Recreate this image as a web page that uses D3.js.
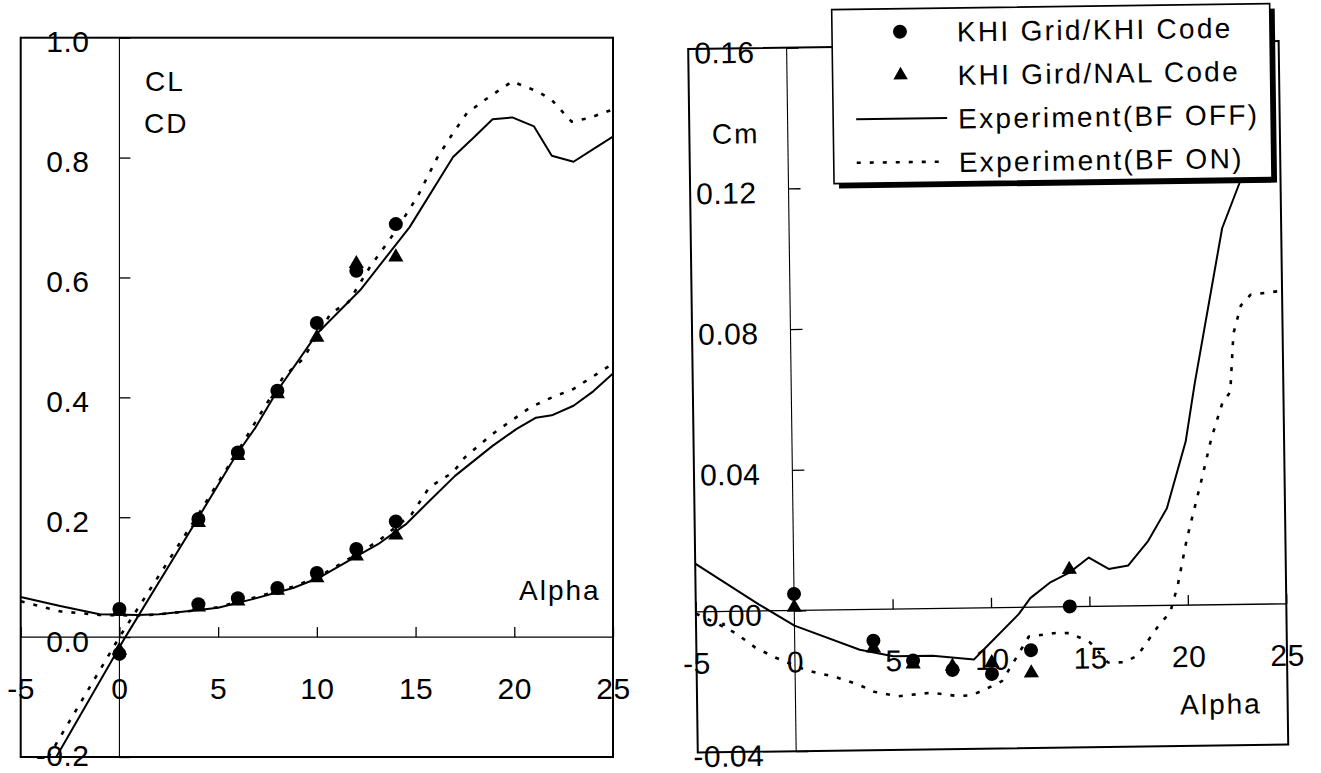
<!DOCTYPE html>
<html>
<head>
<meta charset="utf-8">
<script src="https://cdn.jsdelivr.net/npm/d3@7"></script>
<style>
  html, body { margin: 0; padding: 0; background: #fff; }
  svg { display: block; }
  text { font-family: "Liberation Sans", Arial, Helvetica, sans-serif; font-size: 28px; letter-spacing: 2px; fill: #000; }
  text.tick-label { font-size: 30px; letter-spacing: 0.5px; }
  text.legend-label { letter-spacing: 2.3px; }
</style>
</head>
<body>
<svg id="chart" width="1321" height="773"></svg>
<script>
// ---- axes ----
const alphaTicks = [-5, 0, 5, 10, 15, 20, 25];
const coefTicks = [-0.2, 0.0, 0.2, 0.4, 0.6, 0.8, 1.0];
const cmTicks = [-0.04, 0.00, 0.04, 0.08, 0.12, 0.16];

// ---- CFD results, KHI grid ----
const alphaCfd = [0, 4, 6, 8, 10, 12, 14];
const clKhiCode = [-0.028, 0.197, 0.308, 0.411, 0.524, 0.611, 0.689];
const clNalCode = [-0.022, 0.191, 0.303, 0.406, 0.500, 0.623, 0.634];
const cdKhiCode = [0.047, 0.055, 0.065, 0.082, 0.107, 0.147, 0.193];
const cdNalCode = [0.043, 0.050, 0.060, 0.078, 0.099, 0.135, 0.170];
const cmKhiCode = [0.0047, -0.0089, -0.0147, -0.0175, -0.0188, -0.0122, 0.0001];
const cmNalCode = [0.0009, -0.0110, -0.0157, -0.0165, -0.0156, -0.0187, 0.0106];

// ---- wind tunnel, body flap off ----
const alphaClOff = [-3.2, 0.3, 3.9, 5.9, 6.9, 8.0, 10.0, 12.2, 14.7, 16.9, 18.0, 18.9, 19.9, 21.0, 21.9, 23.0, 24.0, 25.0];
const clOff = [-0.200, 0.000, 0.194, 0.303, 0.350, 0.411, 0.506, 0.579, 0.684, 0.801, 0.835, 0.864, 0.867, 0.852, 0.803, 0.793, 0.814, 0.835];
const alphaCdOff = [-5.0, -3.0, -1.0, 0.9, 2.0, 3.9, 5.0, 6.7, 8.8, 10.1, 11.6, 13.1, 14.5, 15.7, 17.0, 18.9, 20.1, 21.1, 21.9, 23.0, 24.0, 25.0];
const cdOff = [0.067, 0.052, 0.038, 0.037, 0.038, 0.045, 0.049, 0.063, 0.082, 0.099, 0.127, 0.155, 0.188, 0.227, 0.269, 0.319, 0.347, 0.366, 0.370, 0.386, 0.410, 0.440];
const alphaCmOff = [-5.0, -1.8, 0.0, 3.3, 5.0, 7.0, 9.1, 9.5, 11.4, 12.0, 13.0, 14.0, 15.0, 16.0, 17.0, 18.0, 19.0, 20.0, 20.5, 22.0, 23.0, 24.0, 24.6];
const cmOff = [0.0137, 0.0019, -0.0043, -0.0114, -0.0134, -0.0134, -0.0146, -0.0124, -0.0019, 0.0026, 0.0069, 0.0097, 0.0139, 0.0106, 0.0115, 0.0182, 0.0276, 0.0465, 0.0630, 0.1070, 0.1210, 0.1400, 0.1620];

// ---- wind tunnel, body flap on ----
const alphaClOn = [-3.6, 0.0, 4.0, 5.0, 6.0, 7.0, 8.3, 9.3, 10.7, 11.6, 12.7, 13.9, 15.1, 16.1, 16.9, 17.6, 18.5, 19.9, 21.2, 21.9, 22.9, 23.8, 24.7, 25.0];
const clOn = [-0.200, 0.000, 0.205, 0.258, 0.310, 0.365, 0.434, 0.464, 0.540, 0.559, 0.618, 0.673, 0.735, 0.800, 0.841, 0.874, 0.896, 0.927, 0.910, 0.896, 0.860, 0.866, 0.877, 0.880];
const alphaCdOn = [-5.0, -3.0, -1.0, 1.0, 2.0, 4.0, 5.0, 6.7, 8.8, 10.1, 11.6, 13.1, 14.8, 15.7, 16.9, 17.5, 18.9, 20.8, 21.7, 23.0, 24.7, 25.0];
const cdOn = [0.060, 0.043, 0.037, 0.036, 0.038, 0.045, 0.050, 0.065, 0.084, 0.101, 0.130, 0.160, 0.205, 0.250, 0.275, 0.300, 0.339, 0.383, 0.397, 0.414, 0.450, 0.455];
const alphaCmOn = [-5.0, -3.8, -3.0, -2.0, -1.0, 0.6, 2.0, 3.2, 4.0, 5.2, 6.9, 8.3, 9.0, 10.1, 10.5, 11.2, 11.9, 13.3, 14.0, 15.0, 15.9, 16.7, 17.4, 18.5, 19.1, 19.5, 20.0, 20.8, 21.3, 21.9, 22.3, 22.5, 22.9, 23.4, 25.0];
const cmOn = [-0.0005, -0.0038, -0.0062, -0.0104, -0.0133, -0.0171, -0.0190, -0.0213, -0.0234, -0.0248, -0.0239, -0.0250, -0.0247, -0.0220, -0.0209, -0.0147, -0.0083, -0.0074, -0.0075, -0.0102, -0.0160, -0.0160, -0.0142, -0.0057, -0.0019, 0.0057, 0.0190, 0.0360, 0.0472, 0.0575, 0.0604, 0.0770, 0.0850, 0.0880, 0.0890];

const legendLabels = ["KHI Grid/KHI Code", "KHI Gird/NAL Code", "Experiment(BF OFF)", "Experiment(BF ON)"];

// ---- drawing ----
const svg = d3.select("#chart");
const SVG_H = 773;
const zip = (a, v) => a.map((d, i) => [d, v[i]]);
const SOLID = { width: 2, dash: null };
const DOTTED = { width: 2.6, dash: "4 9" };
const triangle = d3.symbol(d3.symbolTriangle, 100);

function drawPanel(g, x, y, opt) {
  const [x0, x1] = x.range();
  const [yb, yt] = y.range();

  g.append("clipPath").attr("id", opt.id)
    .append("rect").attr("x", x0).attr("y", yt).attr("width", x1 - x0).attr("height", yb - yt);

  // frame
  g.append("rect").attr("x", x0).attr("y", yt).attr("width", x1 - x0).attr("height", yb - yt)
    .attr("fill", "none").attr("stroke", "#000").attr("stroke-width", 2);

  // zero lines
  g.append("line").attr("x1", x0).attr("x2", x1).attr("y1", y(0)).attr("y2", y(0))
    .attr("stroke", "#000").attr("stroke-width", 1.3);
  g.append("line").attr("x1", x(0)).attr("x2", x(0)).attr("y1", yt).attr("y2", yb)
    .attr("stroke", "#000").attr("stroke-width", 1.1);

  // alpha axis along the zero line
  const ax = g.append("g").attr("transform", `translate(0,${y(0)})`)
    .call(d3.axisBottom(x).tickValues(alphaTicks).tickSizeInner(-10).tickSizeOuter(0)
      .tickPadding(0).tickFormat(d => String(d)));
  ax.select(".domain").remove();
  ax.selectAll(".tick line").attr("stroke-width", 1.3);
  ax.selectAll(".tick text").attr("class", "tick-label").attr("y", 62).attr("dy", null);

  // coefficient axis along alpha = 0; the lowest label is kept inside the page
  const ay = g.append("g").attr("transform", `translate(${x(0)},0)`)
    .call(d3.axisLeft(y).tickValues(opt.yTicks).tickSizeInner(-opt.tickLen).tickSizeOuter(0)
      .tickPadding(opt.labelGap).tickFormat(opt.fmt));
  ay.select(".domain").remove();
  ay.selectAll(".tick line").attr("stroke-width", 1.3);
  ay.selectAll(".tick text").attr("class", "tick-label")
    .attr("dy", d => Math.min(y(d) + 14, SVG_H - 8) - y(d));

  // experiment curves
  const curves = g.append("g").attr("clip-path", `url(#${opt.id})`);
  const line = d3.line().x(d => x(d[0])).y(d => y(d[1]));
  opt.curves.forEach(c => {
    curves.append("path").datum(c.data).attr("d", line)
      .attr("fill", "none").attr("stroke", "#000")
      .attr("stroke-width", c.style.width)
      .attr("stroke-dasharray", c.style.dash)
      .attr("stroke-linejoin", "round");
  });

  // CFD points: triangles below, circles on top
  opt.points.forEach(p => {
    const pts = g.append("g");
    pts.selectAll("path.tri").data(p.nal).join("path").attr("class", "tri")
      .attr("d", triangle)
      .attr("transform", d => `translate(${x(d[0])},${y(d[1])})`)
      .attr("fill", "#000");
    pts.selectAll("circle").data(p.khi).join("circle")
      .attr("cx", d => x(d[0])).attr("cy", d => y(d[1])).attr("r", 7)
      .attr("fill", "#000");
  });
}

// ---- left panel: CL and CD ----
const xL = d3.scaleLinear().domain([-5, 25]).range([20.7, 613]);
const yL = d3.scaleLinear().domain([-0.2, 1.0]).range([757, 37.7]);
const gL = svg.append("g");
drawPanel(gL, xL, yL, {
  id: "clip-left",
  yTicks: coefTicks,
  tickLen: 11,
  labelGap: 30,
  fmt: d => d.toFixed(1),
  curves: [
    { data: zip(alphaClOff, clOff), style: SOLID },
    { data: zip(alphaClOn, clOn), style: DOTTED },
    { data: zip(alphaCdOff, cdOff), style: SOLID },
    { data: zip(alphaCdOn, cdOn), style: DOTTED }
  ],
  points: [
    { khi: zip(alphaCfd, clKhiCode), nal: zip(alphaCfd, clNalCode) },
    { khi: zip(alphaCfd, cdKhiCode), nal: zip(alphaCfd, cdNalCode) }
  ]
});
gL.append("text").attr("x", 145).attr("y", 91).text("CL");
gL.append("text").attr("x", 144).attr("y", 133).text("CD");
gL.append("text").attr("x", 519).attr("y", 600).text("Alpha");

// ---- right panel: Cm (sheet sits slightly tilted) ----
const xR = d3.scaleLinear().domain([-5, 25]).range([693, 1283.5]);
const yR = d3.scaleLinear().domain([-0.04, 0.16]).range([748.5, 45]);
const gR = svg.append("g").attr("transform", "rotate(-0.78, 990, 400)");
drawPanel(gR, xR, yR, {
  id: "clip-right",
  yTicks: cmTicks,
  tickLen: 12,
  labelGap: 32,
  fmt: d => d.toFixed(2),
  curves: [
    { data: zip(alphaCmOff, cmOff), style: SOLID },
    { data: zip(alphaCmOn, cmOn), style: DOTTED }
  ],
  points: [
    { khi: zip(alphaCfd, cmKhiCode), nal: zip(alphaCfd, cmNalCode) }
  ]
});
gR.append("text").attr("x", 763).attr("y", 140).attr("text-anchor", "end").text("Cm");
gR.append("text").attr("x", 1176).attr("y", 717).text("Alpha");

// ---- legend with drop shadow ----
const lg = gR.append("g");
const box = { x: 837, y: 7.5, w: 438, h: 174 };
lg.append("rect").attr("x", box.x + 5).attr("y", box.y + 5).attr("width", box.w).attr("height", box.h)
  .attr("fill", "#000");
lg.append("rect").attr("x", box.x).attr("y", box.y).attr("width", box.w).attr("height", box.h)
  .attr("fill", "#fff").attr("stroke", "#000").attr("stroke-width", 1.6);

const rowY = i => 30.5 + i * 43.5;
const keyX = 905, keyX0 = 860, keyX1 = 951, textX = 962;
lg.append("circle").attr("cx", keyX).attr("cy", rowY(0)).attr("r", 7).attr("fill", "#000");
lg.append("path").attr("d", d3.symbol(d3.symbolTriangle, 90))
  .attr("transform", `translate(${keyX},${rowY(1)})`).attr("fill", "#000");
lg.append("line").attr("x1", keyX0).attr("x2", keyX1).attr("y1", rowY(2)).attr("y2", rowY(2))
  .attr("stroke", "#000").attr("stroke-width", SOLID.width);
lg.append("line").attr("x1", keyX0).attr("x2", keyX1 - 4).attr("y1", rowY(3)).attr("y2", rowY(3))
  .attr("stroke", "#000").attr("stroke-width", DOTTED.width).attr("stroke-dasharray", DOTTED.dash);
lg.selectAll("text.legend-label").data(legendLabels).join("text").attr("class", "legend-label")
  .attr("x", textX).attr("y", (d, i) => rowY(i) + 10.5).text(d => d);
</script>
</body>
</html>
